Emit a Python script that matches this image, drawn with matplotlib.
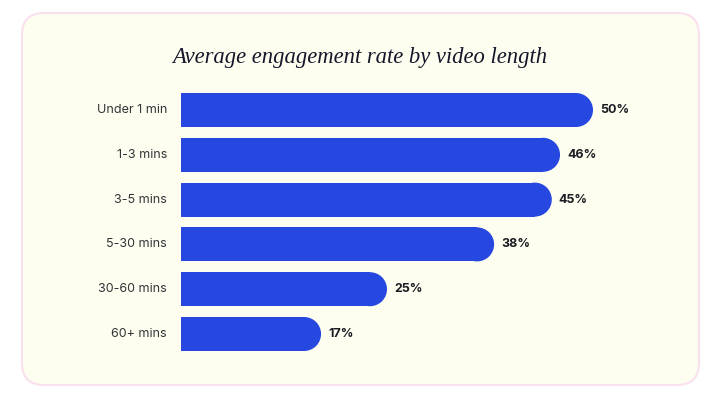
import matplotlib
matplotlib.use("Agg")
import matplotlib.pyplot as plt
from matplotlib.patches import FancyBboxPatch, Ellipse

# data
categories = ["Under 1 min", "1-3 mins", "3-5 mins", "5-30 mins", "30-60 mins", "60+ mins"]
rates = [50, 46, 45, 38, 25, 17]
title = "Average engagement rate by video length"

bar_color = "#2748E0"
card_color = "#FDFEF0"
edge_color = "#FAE0EE"

W, H = 710, 393
fig = plt.figure(figsize=(W / 100, H / 100), dpi=100)
fig.patch.set_facecolor("white")

# background card, drawn in pixel coords
bg = fig.add_axes([0, 0, 1, 1])
bg.set_xlim(0, W)
bg.set_ylim(H, 0)
bg.axis("off")
card = FancyBboxPatch((22, 13), 677, 372, boxstyle="round,pad=0,rounding_size=22",
                      facecolor=card_color, edgecolor=edge_color, linewidth=1.5)
bg.add_patch(card)

fig.text(360 / W, 1 - 57 / H, title, ha="center", va="center",
         family="Liberation Serif", style="italic", fontsize=16.3, color="#16162a")

# bar axes: x=0 at px 181, 8.24 px per percent, rows 44.8 px apart
px_per = 8.24
row = 44.8
xmax = 60
top_px = 110 - row / 2
ax = fig.add_axes([181 / W, 1 - (top_px + row * 6) / H, px_per * xmax / W, row * 6 / H])
ax.set_xlim(0, xmax)
ax.set_ylim(5.5, -0.5)
ax.axis("off")

h = 34 / row
rx = 17 / px_per
for i, (cat, v) in enumerate(zip(categories, rates)):
    ax.barh(i, v - rx, height=h, color=bar_color, linewidth=0)
    ax.add_patch(Ellipse((v - rx, i), 2 * rx, h, facecolor=bar_color, linewidth=0))
    ax.text(v + 7 / px_per, i, f"{v}%", ha="left", va="center",
            family="Inter", fontweight="bold", fontsize=9, color="#1b1b22")
    ax.text(-14 / px_per, i, cat, ha="right", va="center",
            family="Inter", fontsize=9, color="#333338")

plt.savefig("out.png", dpi=100, facecolor="white")
